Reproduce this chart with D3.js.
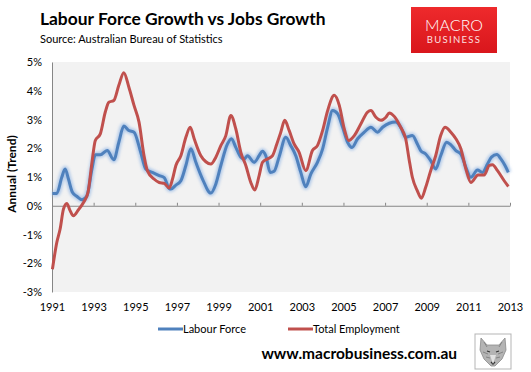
<!DOCTYPE html>
<html>
<head>
<meta charset="utf-8">
<script src="https://cdn.jsdelivr.net/npm/d3@7"></script>
<style>
body { margin: 0; background: #fff; }
text { font-family: Lato, "Open Sans", sans-serif; }
</style>
</head>
<body>
<div class="canvas"></div>
<script>
// ---- DATA --- //
const seriesNames = ['Labour Force', 'Total Employment'];
const xTicks = [1991, 1993, 1995, 1997, 1999, 2001, 2003, 2005, 2007, 2009, 2011, 2013];
const yTicks = [-3, -2, -1, 0, 1, 2, 3, 4, 5];

// [year, annual % change (trend)]
const labourForce = [
    [1991.02, 0.43], [1991.23, 0.43], [1991.47, 0.99], [1991.63, 1.28], [1991.79, 0.93],
    [1991.98, 0.47], [1992.19, 0.33], [1992.44, 0.21], [1992.68, 0.35], [1992.92, 1.28],
    [1993.08, 1.77], [1993.32, 1.77], [1993.65, 1.92], [1993.97, 1.60], [1994.21, 2.21],
    [1994.45, 2.77], [1994.69, 2.62], [1994.94, 2.56], [1995.26, 1.86], [1995.50, 1.28],
    [1995.82, 1.16], [1996.15, 1.05], [1996.39, 0.98], [1996.63, 0.60], [1996.71, 0.58],
    [1996.95, 0.72], [1997.19, 0.87], [1997.43, 1.40], [1997.67, 1.98], [1997.91, 1.51],
    [1998.23, 0.93], [1998.63, 0.44], [1998.87, 0.76], [1999.11, 1.40], [1999.43, 2.15],
    [1999.62, 2.33], [1999.83, 2.03], [2000.07, 1.69], [2000.23, 1.63], [2000.39, 1.74],
    [2000.71, 1.51], [2000.95, 1.74], [2001.11, 1.90], [2001.27, 1.74], [2001.48, 1.16],
    [2001.67, 1.20], [2001.91, 1.70], [2002.23, 2.38], [2002.47, 2.09], [2002.71, 1.74],
    [2002.95, 1.16], [2003.19, 0.66], [2003.43, 1.10], [2003.75, 1.51], [2004.00, 1.98],
    [2004.24, 2.73], [2004.48, 3.31], [2004.72, 3.20], [2004.96, 2.73], [2005.20, 2.21],
    [2005.41, 2.03], [2005.68, 2.33], [2006.00, 2.56], [2006.32, 2.73], [2006.64, 2.56],
    [2006.88, 2.73], [2007.20, 2.87], [2007.51, 2.91], [2007.75, 2.73], [2007.99, 2.38],
    [2008.31, 2.44], [2008.55, 2.15], [2008.71, 1.92], [2008.95, 1.80], [2009.19, 1.57],
    [2009.43, 1.28], [2009.67, 1.74], [2009.96, 2.21], [2010.16, 2.12], [2010.40, 1.92],
    [2010.64, 1.80], [2010.88, 1.34], [2011.12, 0.99], [2011.44, 1.24], [2011.68, 1.16],
    [2011.92, 1.45], [2012.11, 1.69], [2012.37, 1.78], [2012.56, 1.63], [2012.76, 1.40],
    [2012.92, 1.16]
];

const totalEmployment = [
    [1991.02, -2.21], [1991.23, -1.28], [1991.39, -0.81], [1991.55, -0.12], [1991.71, 0.08],
    [1991.87, -0.17], [1992.03, -0.35], [1992.27, -0.14], [1992.52, 0.12], [1992.73, 0.47],
    [1992.92, 1.51], [1993.08, 2.27], [1993.32, 2.50], [1993.56, 3.26], [1993.73, 3.60],
    [1993.97, 3.66], [1994.21, 4.19], [1994.45, 4.63], [1994.69, 4.13], [1994.94, 3.49],
    [1995.18, 2.91], [1995.42, 1.74], [1995.58, 1.22], [1995.90, 0.93], [1996.15, 0.81],
    [1996.39, 0.78], [1996.63, 0.62], [1996.79, 0.93], [1996.95, 1.40], [1997.19, 1.74],
    [1997.43, 2.38], [1997.64, 2.73], [1997.83, 2.33], [1998.15, 1.74], [1998.39, 1.53],
    [1998.63, 1.45], [1998.87, 1.69], [1999.11, 2.09], [1999.35, 2.44], [1999.59, 3.14],
    [1999.83, 2.67], [2000.07, 1.86], [2000.31, 1.40], [2000.55, 0.81], [2000.74, 0.55],
    [2000.95, 1.05], [2001.11, 1.51], [2001.35, 1.63], [2001.59, 1.74], [2001.80, 2.15],
    [2001.99, 2.56], [2002.18, 2.97], [2002.39, 2.62], [2002.63, 2.15], [2002.87, 1.86],
    [2003.19, 1.22], [2003.51, 1.92], [2003.75, 2.09], [2004.00, 2.62], [2004.24, 3.31],
    [2004.56, 3.84], [2004.80, 3.49], [2005.04, 2.67], [2005.25, 2.27], [2005.52, 2.44],
    [2005.84, 2.85], [2006.16, 3.26], [2006.32, 3.31], [2006.56, 3.08], [2006.80, 2.97],
    [2007.04, 3.08], [2007.20, 3.23], [2007.45, 3.10], [2007.75, 2.73], [2007.99, 2.33],
    [2008.15, 1.63], [2008.31, 0.99], [2008.55, 0.52], [2008.74, 0.26], [2008.95, 0.64],
    [2009.19, 1.22], [2009.43, 1.74], [2009.67, 2.44], [2009.88, 2.73], [2010.16, 2.56],
    [2010.40, 2.33], [2010.64, 1.98], [2010.88, 1.28], [2011.12, 0.81], [2011.47, 1.07],
    [2011.76, 1.07], [2012.00, 1.40], [2012.16, 1.43], [2012.40, 1.22], [2012.72, 0.87],
    [2012.92, 0.67]
];

const colours = ['#4f81bd', '#c0504d'];


// ---- GRAPH CONTAINER SETUP --- //
const width = 531, height = 372;
const margin = { top: 62, right: 21, bottom: 80, left: 52 };
const graphWidth = width - margin.left - margin.right;
const graphHeight = height - margin.top - margin.bottom;

const svg = d3.select('.canvas')
    .append('svg')
    .attr('width', width)
    .attr('height', height);

const defs = svg.append('defs');
const logoGrad = defs.append('linearGradient')
    .attr('id', 'logo-grad')
    .attr('x1', 0).attr('y1', 0).attr('x2', 0).attr('y2', 1);
logoGrad.append('stop').attr('offset', '0%').attr('stop-color', '#ee2a2c');
logoGrad.append('stop').attr('offset', '100%').attr('stop-color', '#d9161c');

const glow = defs.append('filter')
    .attr('id', 'glow')
    .attr('x', '-5%').attr('y', '-10%').attr('width', '110%').attr('height', '120%');
glow.append('feGaussianBlur').attr('stdDeviation', 1.6);

// title block
svg.append('text')
    .attr('x', 40).attr('y', 25)
    .attr('font-size', 17.4).attr('font-weight', 'bold')
    .attr('fill', '#000')
    .text('Labour Force Growth vs Jobs Growth');

svg.append('text')
    .attr('x', 40).attr('y', 43)
    .attr('font-size', 11)
    .attr('fill', '#000')
    .text('Source: Australian Bureau of Statistics');

// MacroBusiness badge
const badge = svg.append('g').attr('transform', 'translate(411,7)');
badge.append('rect')
    .attr('width', 86).attr('height', 46)
    .attr('fill', 'url(#logo-grad)');
badge.append('text')
    .attr('x', 43).attr('y', 23.5)
    .attr('text-anchor', 'middle')
    .attr('font-size', 16).attr('font-weight', 300)
    .attr('fill', '#fff')
    .text('MACRO');
badge.append('text')
    .attr('x', 43).attr('y', 35.5)
    .attr('text-anchor', 'middle')
    .attr('font-size', 9.5).attr('letter-spacing', 1.3)
    .attr('fill', '#fde0e0')
    .text('BUSINESS');

const graph = svg.append('g')
    .attr('width', graphWidth)
    .attr('height', graphHeight)
    .attr('transform', `translate(${margin.left},${margin.top})`);

graph.append('rect')
    .attr('width', graphWidth)
    .attr('height', graphHeight)
    .attr('fill', '#f2f2f2');


// ---- GRAPH SCALES / AXES --- //
const xScale = d3.scaleLinear().domain([1991, 2013]).range([0, graphWidth]);
const yScale = d3.scaleLinear().domain([-3, 5]).range([graphHeight, 0]);

const yAxis = d3.axisLeft(yScale)
    .tickValues(yTicks)
    .tickSize(0)
    .tickPadding(10)
    .tickFormat(d => d + '%');

const yAxisGroup = graph.append('g').attr('class', 'y-axis').call(yAxis);
yAxisGroup.select('.domain').attr('stroke', '#868686');
yAxisGroup.selectAll('text').attr('font-size', 11).attr('fill', '#000')
    .attr('font-family', 'Lato, sans-serif');

// zero line with small up-ticks
const zeroAxis = d3.axisBottom(xScale)
    .tickValues(xTicks)
    .tickSizeInner(-3)
    .tickSizeOuter(0)
    .tickFormat('');

const zeroAxisGroup = graph.append('g')
    .attr('class', 'zero-axis')
    .attr('transform', `translate(0, ${yScale(0)})`)
    .call(zeroAxis);
zeroAxisGroup.selectAll('.domain, line').attr('stroke', '#868686');

// year labels under plot
const xAxis = d3.axisBottom(xScale)
    .tickValues(xTicks)
    .tickSize(0)
    .tickPadding(11)
    .tickFormat(d3.format('d'));

const xAxisGroup = graph.append('g')
    .attr('class', 'x-axis')
    .attr('transform', `translate(0, ${graphHeight})`)
    .call(xAxis);
xAxisGroup.select('.domain').remove();
xAxisGroup.selectAll('text').attr('font-size', 11).attr('fill', '#000')
    .attr('font-family', 'Lato, sans-serif');

svg.append('text')
    .attr('transform', `translate(16, ${margin.top + 112}) rotate(-90)`)
    .attr('text-anchor', 'middle')
    .attr('font-size', 12).attr('font-weight', 'bold')
    .text('Annual (Trend)');


// ---- LINES --- //
const line = d3.line()
    .x(d => xScale(d[0]))
    .y(d => yScale(d[1]))
    .curve(d3.curveMonotoneX);

graph.append('path')
    .datum(labourForce)
    .attr('d', line)
    .attr('fill', 'none')
    .attr('stroke', '#9dbde6')
    .attr('stroke-width', 6)
    .attr('stroke-opacity', 0.8)
    .attr('filter', 'url(#glow)');

[labourForce, totalEmployment].forEach((series, i) => {
    graph.append('path')
        .datum(series)
        .attr('d', line)
        .attr('fill', 'none')
        .attr('stroke', colours[i])
        .attr('stroke-width', 3)
        .attr('stroke-linejoin', 'round');
});


// ---- LEGEND --- //
const legendX = [158, 288];
const legend = svg.selectAll('.legend')
    .data(seriesNames)
    .enter().append('g')
    .attr('class', 'legend')
    .attr('transform', (d, i) => `translate(${legendX[i]}, 329)`);

legend.append('line')
    .attr('x1', 0).attr('x2', 25)
    .attr('stroke', (d, i) => colours[i])
    .attr('stroke-width', 3);

legend.append('text')
    .attr('x', 25).attr('y', 4)
    .attr('font-size', 11)
    .text(d => d);


// ---- FOOTER --- //
svg.append('text')
    .attr('x', 457).attr('y', 359)
    .attr('text-anchor', 'end')
    .attr('font-size', 15.5).attr('font-weight', 'bold')
    .text('www.macrobusiness.com.au');

// small wolf badge
const wolf = svg.append('g').attr('transform', 'translate(475,334)');
wolf.append('rect')
    .attr('width', 36).attr('height', 35)
    .attr('fill', '#fff').attr('stroke', '#b5b5b5');
wolf.append('path')
    .attr('d', 'M6,4 L12,11 L24,11 L30,4 L31,16 L27,25 L20,32 L16,32 L9,25 L5,16 Z')
    .attr('fill', '#b4b4b4').attr('stroke', '#8a8a8a').attr('stroke-width', 0.8);
wolf.append('path')
    .attr('d', 'M9,8 L12,13 M27,8 L24,13 M8,18 L13,20 M28,18 L23,20 M11,23 L15,24 M25,23 L21,24')
    .attr('stroke', '#777').attr('stroke-width', 0.8).attr('fill', 'none');
wolf.append('path')
    .attr('d', 'M12,17 L15,18 M24,17 L21,18 M16,28 L18,30 L20,28')
    .attr('stroke', '#333').attr('stroke-width', 1.3).attr('fill', 'none');
wolf.append('path')
    .attr('d', 'M15,21 L18,30 L21,21 Z')
    .attr('fill', '#e2e2e2');
</script>
</body>
</html>
